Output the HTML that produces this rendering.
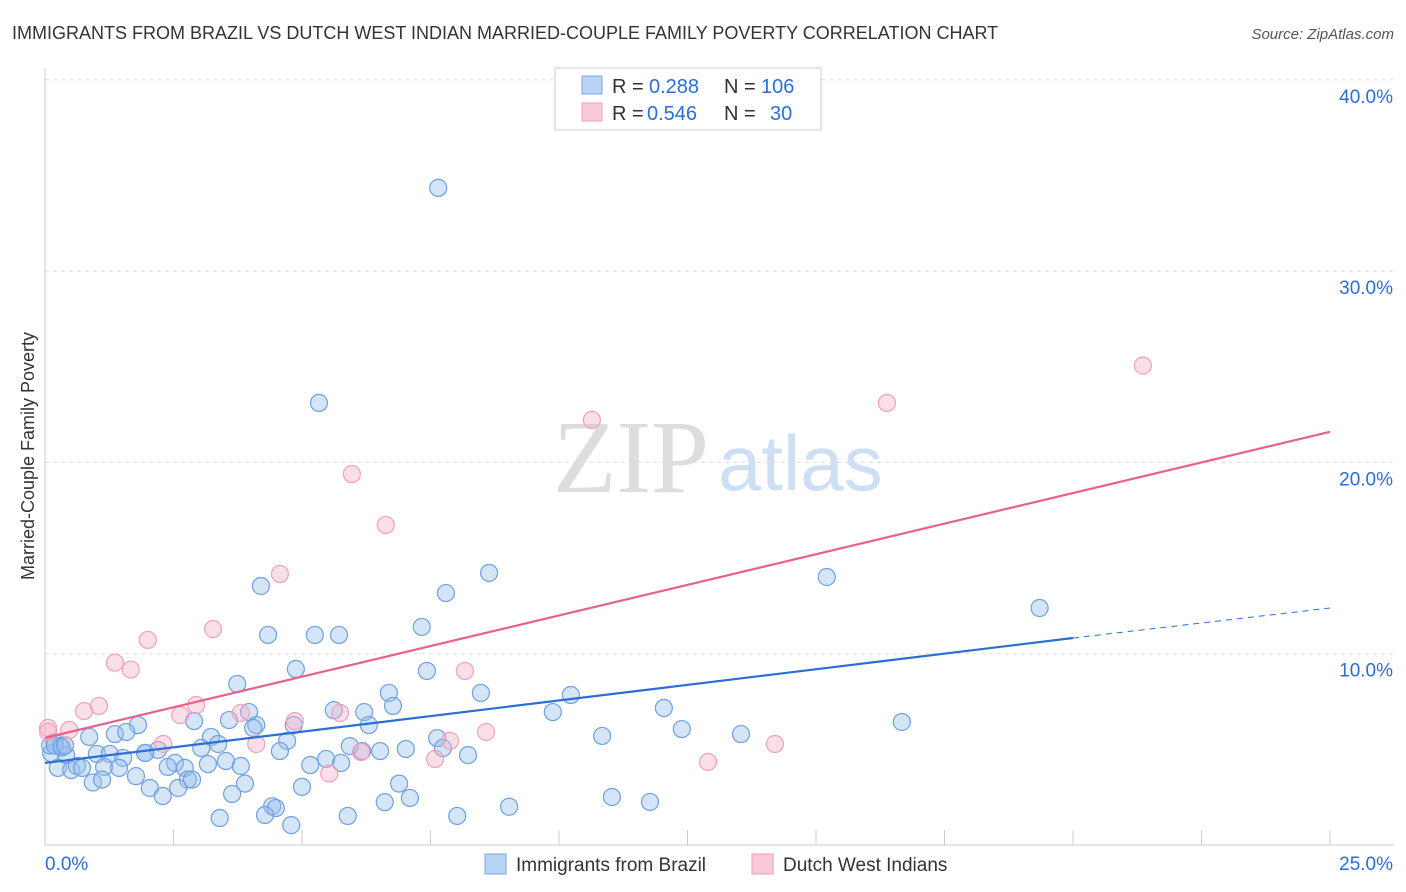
<!DOCTYPE html>
<html><head><meta charset="utf-8">
<style>
body{margin:0;background:#fff;font-family:"Liberation Sans",sans-serif;}
svg{display:block}
</style></head>
<body>
<svg id="chart" width="1406" height="892">
<text x="12" y="39" font-size="18" fill="#333">IMMIGRANTS FROM BRAZIL VS DUTCH WEST INDIAN MARRIED-COUPLE FAMILY POVERTY CORRELATION CHART</text>
<text x="1394" y="39" font-size="15" fill="#555" font-style="italic" text-anchor="end">Source: ZipAtlas.com</text>
<text transform="translate(34,456) rotate(-90)" font-size="18" fill="#333" text-anchor="middle">Married-Couple Family Poverty</text>
<text x="553" y="492" font-size="104" fill="#ddd" font-family="Liberation Serif,serif">ZIP</text>
<text x="718" y="490" font-size="78" fill="#cfdff3">atlas</text>
<g id="grid"></g><g id="marks"></g>
<g>
<rect x="555" y="68" width="266" height="62" fill="#fff" stroke="#ccc"/>
<rect x="582" y="76" width="20" height="18" fill="#b8d3f5" stroke="#7aa8e6"/>
<rect x="582" y="103" width="20" height="18" fill="#f9c9d8" stroke="#ee9fb8"/>
<g font-size="20" fill="#333">
<text x="612" y="93">R =</text><text x="649" y="93" fill="#2b6ed6">0.288</text><text x="724" y="93">N =</text><text x="761" y="93" fill="#2b6ed6">106</text>
<text x="612" y="120">R =</text><text x="647" y="120" fill="#2b6ed6">0.546</text><text x="724" y="120">N =</text><text x="770" y="120" fill="#2b6ed6">30</text>
</g>
</g>
<g>
<rect x="485" y="854" width="21" height="20" fill="#b8d3f5" stroke="#7aa8e6"/>
<text x="516" y="871" font-size="19" fill="#333">Immigrants from Brazil</text>
<rect x="752" y="854" width="21" height="20" fill="#f9c9d8" stroke="#ee9fb8"/>
<text x="783" y="871" font-size="19" fill="#333">Dutch West Indians</text>
</g>
</svg>
<script>
const xTicks=[0,25];
const yTicks=[10,20,30,40];
const brazilX=[7.65,5.33,8.64,15.21,19.35,7.8,4.2,4.34,5.25,5.72,7.33,4.88,7.43,3.74,6.69,8.48,10.23,5.62,6.21,6.77,9.88,12.04,3.97,16.67,2.9,3.58,4.11,4.05,4.84,6.3,1.81,1.36,1.58,3.23,4.71,12.39,13.54,10.84,7.63,0.86,0.19,0.29,0.12,0.41,1.01,1.26,1.95,2.2,3.04,3.37,4.57,5.93,6.52,7.02,7.74,8.23,6.17,5.47,5.76,1.52,1.95,2.53,2.39,2.72,3.17,3.52,3.81,5.16,0.25,0.51,0.62,0.72,1.15,1.44,1.77,0.93,1.11,2.78,2.59,2.86,3.89,2.04,2.29,3.64,5.0,6.89,6.61,7.1,4.42,4.49,4.28,3.4,5.89,8.02,9.03,11.03,11.77,4.79,0.1,0.19,0.33,0.39];
const brazilY=[34.35,23.11,14.22,14.01,12.39,13.17,13.54,10.98,10.98,10.98,11.4,9.2,9.1,8.42,7.95,7.95,7.84,7.05,6.95,7.27,6.95,7.16,6.95,6.43,6.48,6.53,6.27,6.12,6.27,6.27,6.27,5.8,5.91,5.65,5.44,6.06,5.8,5.7,5.59,5.65,5.38,5.17,4.8,4.7,4.76,4.76,4.81,4.97,5.07,5.28,4.91,5.17,4.91,5.02,5.07,4.7,4.91,4.5,4.29,4.55,4.81,4.29,4.08,4.03,4.23,4.39,4.13,4.18,4.03,3.92,4.13,4.03,4.08,4.03,3.6,3.27,3.42,3.42,2.98,3.42,3.21,2.98,2.56,2.67,3.04,3.21,2.24,2.46,2.03,1.93,1.57,1.41,1.52,1.52,2.0,2.51,2.25,1.04,5.2,5.2,5.1,5.2];
const dutchX=[21.36,16.38,10.64,5.97,6.63,4.57,2.0,3.27,1.36,1.67,8.17,1.05,0.76,2.94,2.63,3.81,4.86,5.74,0.47,0.06,2.3,4.11,6.15,7.88,8.58,14.2,12.9,5.53,7.59,0.06];
const dutchY=[25.06,23.11,22.22,19.39,16.73,14.17,10.72,11.29,9.53,9.17,9.1,7.27,7.0,7.32,6.79,6.9,6.48,6.9,6.01,6.12,5.28,5.28,4.86,5.44,5.91,5.28,4.34,3.74,4.5,5.91];
const brazilTrend=[4.29,10.82,12.39]; // at x=0,20,25
const dutchTrend=[5.6,21.6]; // at x=0,25
const X=v=>45+v*51.4, Y=v=>845-v*19.13;
const NS="http://www.w3.org/2000/svg";
function mk(t,a,p){const e=document.createElementNS(NS,t);for(const k in a)e.setAttribute(k,a[k]);p.appendChild(e);return e;}
const grid=document.getElementById('grid'), marks=document.getElementById('marks');
for(const t of yTicks){
 const l=mk('line',{x1:45,x2:1394,y1:Y(t),y2:Y(t),stroke:'#ddd','stroke-dasharray':'4,4'},grid);
 
 
 const tx=mk('text',{x:1393,y:Y(t)+23,'font-size':19,fill:'#2b6ed6','text-anchor':'end'},grid);tx.textContent=t.toFixed(1)+'%';
 
 
}
mk('line',{x1:45,x2:45,y1:68,y2:845,stroke:'#ccc'},grid);
mk('line',{x1:45,x2:1394,y1:845,y2:845,stroke:'#ccc'},grid);
for(let i=1;i<=10;i++){mk('line',{x1:X(i*2.5),x2:X(i*2.5),y1:830,y2:845,stroke:'#ccc'},grid);}
xTicks.forEach((t,i)=>{const tx=mk('text',{x:i?1393:45,y:870,'font-size':19,fill:'#2b6ed6','text-anchor':i?'end':'start'},grid);tx.textContent=t.toFixed(1)+'%';
 
 });
brazilX.forEach((x,i)=>{const c=mk('circle',{cx:X(x),cy:Y(brazilY[i]),r:8.5,fill:'rgba(150,190,238,0.4)',stroke:'#6fa0e0','stroke-width':1.2},marks);
 
 });
dutchX.forEach((x,i)=>{const c=mk('circle',{cx:X(x),cy:Y(dutchY[i]),r:8.5,fill:'rgba(245,175,198,0.4)',stroke:'#f0a0b8','stroke-width':1.2},marks);
 
 });
let l=mk('line',{x1:X(0),y1:Y(dutchTrend[0]),x2:X(25),y2:Y(dutchTrend[1]),stroke:'#e8608e','stroke-width':2.2},marks);


l=mk('line',{x1:X(0),y1:Y(brazilTrend[0]),x2:X(20),y2:Y(brazilTrend[1]),stroke:'#2b6ed6','stroke-width':2.2},marks);


l=mk('line',{x1:X(20),y1:Y(brazilTrend[1]),x2:X(25),y2:Y(brazilTrend[2]),stroke:'#2b6ed6','stroke-width':1,'stroke-dasharray':'6,5'},marks);


</script>
</body></html>
